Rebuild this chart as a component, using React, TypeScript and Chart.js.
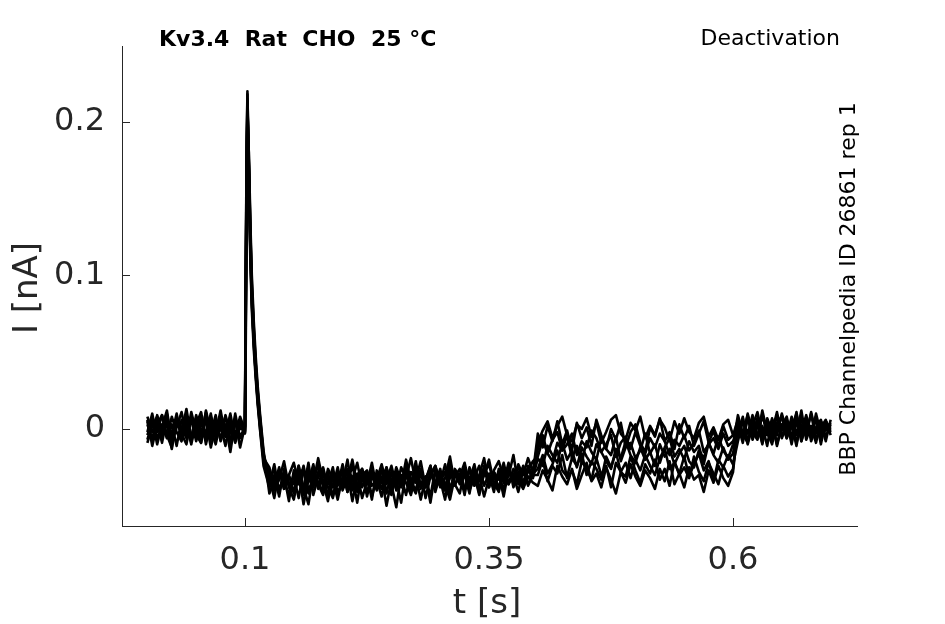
import { useEffect, useRef } from "react";
import Chart from "chart.js/auto";

// --- sample times [s] ---
const TIME_PRE = [0, 0.005, 0.01, 0.015, 0.02, 0.025, 0.03, 0.035, 0.04, 0.045, 0.05, 0.055, 0.06, 0.065, 0.07, 0.075, 0.08, 0.085, 0.09, 0.095, 0.1];
const TIME_SPIKE = [0.1005, 0.1015, 0.1025, 0.104, 0.1055, 0.107, 0.109, 0.111, 0.113, 0.1155, 0.119];
const TIME_MID = [
  0.125, 0.13, 0.135, 0.14, 0.145, 0.15, 0.155, 0.16, 0.165, 0.17, 0.175, 0.18, 0.185, 0.19, 0.195, 0.2,
  0.205, 0.21, 0.215, 0.22, 0.225, 0.23, 0.235, 0.24, 0.245, 0.25, 0.255, 0.26, 0.265, 0.27, 0.275, 0.28, 0.285, 0.29, 0.295, 0.3,
  0.305, 0.31, 0.315, 0.32, 0.325, 0.33, 0.335, 0.34, 0.345, 0.35, 0.355, 0.36, 0.365, 0.37, 0.375, 0.38, 0.385, 0.39, 0.395,
];
const TIME_STEP = [
  0.4, 0.405, 0.41, 0.415, 0.42, 0.425, 0.43, 0.435, 0.44, 0.445, 0.45, 0.455, 0.46, 0.465, 0.47, 0.475, 0.48, 0.485, 0.49, 0.495, 0.5,
  0.505, 0.51, 0.515, 0.52, 0.525, 0.53, 0.535, 0.54, 0.545, 0.55, 0.555, 0.56, 0.565, 0.57, 0.575, 0.58, 0.585, 0.59, 0.595, 0.6,
];
const TIME_POST = [0.605, 0.61, 0.615, 0.62, 0.625, 0.63, 0.635, 0.64, 0.645, 0.65, 0.655, 0.66, 0.665, 0.67, 0.675, 0.68, 0.685, 0.69, 0.695, 0.7];
const TIME = [...TIME_PRE, ...TIME_SPIKE, ...TIME_MID, ...TIME_STEP, ...TIME_POST];

// --- current traces [nA], one per sweep ---
const TRACE_1 = [
  0.003, -0.007, 0.009, -0.002, 0.005, -0.009, 0.001, 0.011, -0.004, 0.006, -0.008, 0.004, -0.003, 0.01, -0.006, 0.002, -0.011, 0.007, -0.004, 0.008, -0.001,
  0.07, 0.17, 0.22, 0.165, 0.115, 0.082, 0.056, 0.036, 0.019, 0.002, -0.02,
  -0.028, -0.036, -0.025, -0.039, -0.03, -0.022, -0.035, -0.041, -0.027, -0.033, -0.024, -0.038, -0.029, -0.044, -0.031,
  -0.026, -0.034, -0.02, -0.037, -0.03, -0.042, -0.028, -0.033, -0.023, -0.036, -0.029, -0.04, -0.025, -0.032, -0.019,
  -0.035, -0.027, -0.038, -0.03, -0.024, -0.034, -0.028, -0.041, -0.026, -0.031, -0.022, -0.036, -0.029, -0.033, -0.025,
  -0.038, -0.027, -0.021, -0.032, -0.026, -0.035, -0.023, -0.03, -0.019, -0.028,
  -0.009, -0.001, 0.005, -0.006, 0.002, 0.008, -0.004, -0.008, 0.003, 0.0, 0.007, -0.005, 0.004, -0.009, -0.002,
  0.006, 0.009, -0.003, -0.007, 0.004, -0.001, 0.008, -0.006, 0.002, -0.004, 0.006, 0.001, -0.008, 0.005, -0.003,
  0.007, -0.002, -0.006, 0.004, 0.008, -0.005, 0.001, -0.007, 0.003, 0.006, -0.004,
  0.006, -0.004, 0.009, -0.007, 0.003, -0.009, 0.007, -0.002, 0.011, -0.005, 0.004, -0.008, 0.008, -0.001, 0.006, -0.006, 0.01, -0.003, 0.005, -0.002,
];
const TRACE_2 = [
  -0.004, 0.006, -0.01, 0.003, -0.006, 0.008, -0.002, -0.008, 0.005, -0.005, 0.009, -0.003, 0.006, -0.012, 0.002, 0.007, -0.005, 0.004, -0.009, 0.003, 0.001,
  0.05, 0.15, 0.205, 0.17, 0.125, 0.09, 0.062, 0.04, 0.022, 0.004, -0.018,
  -0.034, -0.026, -0.04, -0.029, -0.037, -0.031, -0.045, -0.027, -0.035, -0.023, -0.039, -0.03, -0.036, -0.025, -0.042,
  -0.033, -0.028, -0.047, -0.031, -0.026, -0.036, -0.03, -0.04, -0.027, -0.034, -0.024, -0.037, -0.031, -0.043, -0.028,
  -0.033, -0.021, -0.038, -0.029, -0.035, -0.026, -0.04, -0.032, -0.027, -0.036, -0.03, -0.042, -0.025, -0.034, -0.029,
  -0.023, -0.036, -0.031, -0.039, -0.027, -0.033, -0.028, -0.037, -0.024, -0.031,
  -0.013, -0.004, -0.016, -0.007, -0.002, -0.014, -0.01, -0.003, -0.017, -0.008, -0.012, -0.001, -0.006, -0.015, -0.01,
  -0.004, -0.018, -0.009, -0.005, -0.013, -0.002, -0.011, -0.016, -0.006, -0.012, -0.003, -0.008, -0.017, -0.007, -0.011,
  -0.004, -0.014, -0.009, -0.001, -0.015, -0.01, -0.006, -0.013, -0.003, -0.011, -0.008,
  -0.003, 0.007, -0.008, 0.004, -0.005, 0.009, -0.002, 0.006, -0.01, 0.003, -0.006, 0.008, -0.004, 0.012, -0.007, 0.002, -0.009, 0.005, -0.001, 0.004,
];
const TRACE_3 = [
  0.008, -0.002, 0.004, -0.009, 0.007, -0.004, 0.01, -0.006, 0.002, -0.01, 0.005, 0.0, -0.007, 0.006, -0.003, 0.012, -0.005, 0.002, -0.008, 0.005, -0.003,
  0.04, 0.14, 0.21, 0.175, 0.13, 0.095, 0.066, 0.043, 0.025, 0.007, -0.016,
  -0.031, -0.039, -0.027, -0.034, -0.043, -0.029, -0.036, -0.024, -0.04, -0.032, -0.037, -0.026, -0.045, -0.03, -0.035,
  -0.028, -0.041, -0.033, -0.022, -0.038, -0.031, -0.046, -0.027, -0.035, -0.03, -0.039, -0.025, -0.034, -0.029, -0.042,
  -0.026, -0.036, -0.031, -0.048, -0.028, -0.035, -0.023, -0.039, -0.03, -0.034, -0.027, -0.04, -0.032, -0.024, -0.037,
  -0.029, -0.041, -0.026, -0.035, -0.022, -0.038, -0.03, -0.034, -0.027, -0.032,
  -0.019, -0.024, -0.011, -0.017, -0.022, -0.009, -0.02, -0.014, -0.025, -0.012, -0.018, -0.023, -0.01, -0.015, -0.021,
  -0.026, -0.013, -0.019, -0.008, -0.017, -0.022, -0.012, -0.02, -0.015, -0.024, -0.01, -0.018, -0.013, -0.023, -0.016,
  -0.011, -0.021, -0.025, -0.014, -0.019, -0.009, -0.017, -0.022, -0.012, -0.02, -0.016,
  0.004, -0.006, 0.01, -0.003, 0.007, -0.008, 0.002, -0.005, 0.009, -0.001, 0.006, -0.01, 0.005, -0.004, 0.008, -0.002, 0.007, -0.007, 0.003, 0.001,
];
const TRACE_4 = [
  -0.007, 0.004, -0.002, 0.009, -0.005, 0.003, -0.011, 0.006, -0.001, 0.008, -0.004, -0.009, 0.012, -0.002, 0.005, -0.007, 0.009, -0.003, 0.006, -0.012, 0.002,
  0.06, 0.16, 0.215, 0.16, 0.11, 0.078, 0.052, 0.033, 0.016, -0.001, -0.024,
  -0.038, -0.03, -0.044, -0.026, -0.035, -0.041, -0.028, -0.049, -0.033, -0.027, -0.036, -0.043, -0.03, -0.038, -0.025,
  -0.04, -0.032, -0.037, -0.029, -0.045, -0.034, -0.027, -0.039, -0.031, -0.05, -0.033, -0.028, -0.036, -0.024, -0.04,
  -0.03, -0.046, -0.032, -0.027, -0.038, -0.031, -0.035, -0.043, -0.029, -0.034, -0.04, -0.026, -0.037, -0.031, -0.044,
  -0.032, -0.028, -0.039, -0.025, -0.035, -0.03, -0.041, -0.027, -0.036, -0.029,
  -0.026, -0.017, -0.029, -0.023, -0.014, -0.027, -0.031, -0.019, -0.024, -0.016, -0.03, -0.021, -0.026, -0.033, -0.018,
  -0.025, -0.015, -0.028, -0.022, -0.032, -0.02, -0.027, -0.017, -0.024, -0.03, -0.019, -0.013, -0.026, -0.022, -0.029,
  -0.018, -0.031, -0.023, -0.016, -0.027, -0.021, -0.034, -0.02, -0.025, -0.017, -0.023,
  -0.008, 0.005, -0.003, 0.009, -0.006, 0.002, -0.011, 0.007, -0.004, 0.01, -0.002, 0.006, -0.009, 0.003, -0.005, 0.011, -0.003, 0.004, -0.008, 0.006,
];
const TRACE_5 = [
  0.005, -0.008, 0.002, -0.004, 0.01, -0.007, 0.004, -0.002, 0.013, -0.006, 0.001, -0.009, 0.007, -0.003, 0.009, -0.008, 0.003, -0.015, 0.006, -0.005, 0.0,
  0.03, 0.12, 0.195, 0.18, 0.135, 0.1, 0.07, 0.047, 0.028, 0.009, -0.014,
  -0.042, -0.033, -0.027, -0.039, -0.031, -0.036, -0.024, -0.043, -0.03, -0.038, -0.028, -0.035, -0.047, -0.029, -0.034,
  -0.038, -0.026, -0.032, -0.041, -0.03, -0.027, -0.037, -0.033, -0.044, -0.029, -0.035, -0.031, -0.038, -0.026, -0.036,
  -0.042, -0.029, -0.034, -0.024, -0.039, -0.033, -0.046, -0.028, -0.036, -0.031, -0.025, -0.038, -0.03, -0.043, -0.027,
  -0.034, -0.03, -0.04, -0.028, -0.036, -0.026, -0.033, -0.039, -0.031, -0.035,
  -0.037, -0.027, -0.033, -0.04, -0.024, -0.031, -0.036, -0.026, -0.039, -0.03, -0.022, -0.034, -0.029, -0.038, -0.025,
  -0.033, -0.042, -0.028, -0.035, -0.023, -0.031, -0.037, -0.027, -0.032, -0.039, -0.026, -0.034, -0.021, -0.036, -0.029,
  -0.038, -0.025, -0.033, -0.03, -0.041, -0.027, -0.035, -0.024, -0.032, -0.037, -0.028,
  0.002, -0.007, 0.008, -0.004, 0.005, -0.01, 0.006, -0.001, 0.009, -0.006, 0.003, -0.005, 0.011, -0.008, 0.004, -0.003, 0.008, -0.006, 0.002, -0.001,
];
const TRACE_6 = [
  -0.002, 0.01, -0.006, 0.001, 0.012, -0.008, 0.005, -0.003, -0.01, 0.007, 0.002, -0.005, 0.011, -0.007, 0.004, -0.001, 0.008, -0.009, 0.003, 0.006, -0.002,
  0.065, 0.165, 0.218, 0.168, 0.12, 0.085, 0.058, 0.038, 0.02, 0.003, -0.019,
  -0.025, -0.04, -0.033, -0.021, -0.038, -0.046, -0.03, -0.026, -0.042, -0.035, -0.019, -0.034, -0.044, -0.028, -0.037,
  -0.023, -0.041, -0.031, -0.048, -0.027, -0.036, -0.022, -0.039, -0.033, -0.025, -0.043, -0.029, -0.037, -0.02, -0.034,
  -0.04, -0.026, -0.045, -0.031, -0.024, -0.038, -0.032, -0.018, -0.036, -0.042, -0.027, -0.033, -0.023, -0.039, -0.03,
  -0.02, -0.035, -0.041, -0.026, -0.031, -0.017, -0.036, -0.024, -0.032, -0.029,
  -0.003, -0.012, 0.002, -0.008, 0.005, -0.01, -0.001, -0.014, 0.004, -0.006, 0.001, -0.011, 0.006, -0.004, -0.013,
  0.0, -0.007, 0.004, -0.012, -0.002, 0.003, -0.009, -0.015, 0.001, -0.005, 0.007, -0.008, -0.002, -0.013, 0.003,
  -0.006, 0.002, -0.011, -0.003, 0.005, -0.009, -0.001, -0.012, 0.002, -0.007, -0.004,
  -0.005, 0.008, -0.01, 0.002, 0.011, -0.004, 0.006, -0.008, 0.0, 0.009, -0.006, 0.003, -0.011, 0.007, -0.002, 0.01, -0.007, 0.001, 0.006, -0.004,
];
const TRACE_7 = [
  0.006, -0.011, 0.003, 0.009, -0.004, -0.012, 0.007, 0.001, -0.006, 0.011, -0.002, 0.008, -0.01, 0.004, -0.005, 0.009, -0.001, -0.008, 0.01, -0.006, 0.002,
  0.045, 0.145, 0.208, 0.172, 0.128, 0.092, 0.064, 0.042, 0.024, 0.006, -0.017,
  -0.036, -0.023, -0.041, -0.03, -0.047, -0.027, -0.034, -0.039, -0.022, -0.043, -0.031, -0.025, -0.038, -0.045, -0.029,
  -0.035, -0.02, -0.04, -0.032, -0.026, -0.044, -0.03, -0.037, -0.024, -0.042, -0.028, -0.033, -0.048, -0.027, -0.036,
  -0.021, -0.039, -0.031, -0.044, -0.026, -0.034, -0.04, -0.023, -0.037, -0.029, -0.043, -0.025, -0.035, -0.03, -0.019,
  -0.038, -0.028, -0.033, -0.022, -0.036, -0.03, -0.024, -0.038, -0.027, -0.021,
  -0.018, -0.007, -0.016, -0.021, -0.009, -0.014, -0.004, -0.019, -0.011, -0.022, -0.008, -0.015, -0.02, -0.006, -0.013,
  -0.017, -0.005, -0.021, -0.012, -0.009, -0.019, -0.014, -0.003, -0.016, -0.01, -0.022, -0.012, -0.006, -0.018, -0.013,
  -0.02, -0.008, -0.015, -0.011, -0.023, -0.009, -0.016, -0.005, -0.014, -0.019, -0.01,
  0.009, -0.003, -0.009, 0.005, -0.006, 0.012, -0.002, -0.01, 0.004, 0.008, -0.005, 0.001, 0.01, -0.008, 0.003, -0.004, 0.007, -0.01, 0.005, 0.0,
];
const TRACE_8 = [
  -0.009, 0.002, 0.008, -0.005, 0.004, -0.013, 0.006, -0.003, 0.009, -0.008, 0.003, 0.011, -0.006, 0.0, -0.01, 0.005, -0.004, 0.01, -0.007, 0.001, -0.002,
  0.055, 0.155, 0.212, 0.163, 0.117, 0.084, 0.057, 0.036, 0.018, 0.0, -0.021,
  -0.032, -0.045, -0.027, -0.036, -0.03, -0.042, -0.024, -0.038, -0.049, -0.029, -0.035, -0.041, -0.026, -0.033, -0.046,
  -0.031, -0.037, -0.023, -0.04, -0.034, -0.028, -0.044, -0.032, -0.039, -0.025, -0.036, -0.051, -0.03, -0.035, -0.043,
  -0.027, -0.038, -0.033, -0.024, -0.041, -0.029, -0.036, -0.046, -0.031, -0.026, -0.039, -0.034, -0.028, -0.042, -0.024,
  -0.033, -0.038, -0.029, -0.044, -0.027, -0.034, -0.031, -0.025, -0.037, -0.03,
  -0.03, -0.02, -0.034, -0.024, -0.029, -0.017, -0.032, -0.027, -0.036, -0.021, -0.026, -0.033, -0.019, -0.03, -0.024,
  -0.038, -0.022, -0.028, -0.031, -0.018, -0.027, -0.035, -0.023, -0.029, -0.02, -0.033, -0.026, -0.037, -0.021, -0.03,
  -0.025, -0.032, -0.018, -0.028, -0.034, -0.022, -0.029, -0.036, -0.024, -0.031, -0.026,
  0.003, -0.009, 0.007, -0.002, -0.007, 0.01, -0.004, 0.005, -0.011, 0.002, 0.008, -0.006, 0.004, -0.003, 0.009, -0.008, 0.001, 0.006, -0.005, 0.003,
];
const TRACES = [TRACE_1, TRACE_2, TRACE_3, TRACE_4, TRACE_5, TRACE_6, TRACE_7, TRACE_8];

const X_TICKS = [0.1, 0.35, 0.6];
const Y_TICKS = [0, 0.1, 0.2];

const TITLE = "Kv3.4  Rat  CHO  25 °C";
const PROTOCOL = "Deactivation";
const SOURCE = "BBP Channelpedia ID 26861 rep 1";
const X_LABEL = "t [s]";
const Y_LABEL = "I [nA]";

const FONT = "'DejaVu Sans', sans-serif";
const AXIS_COLOR = "#262626";

// inward tick marks + the loose texts around the axes
const annotations = {
  id: "annotations",
  afterDraw(chart: any) {
    const { ctx, chartArea, scales } = chart;
    ctx.save();
    ctx.strokeStyle = AXIS_COLOR;
    ctx.lineWidth = 1;
    ctx.beginPath();
    X_TICKS.forEach((v) => {
      const px = Math.round(scales.x.getPixelForValue(v)) + 0.5;
      ctx.moveTo(px, chartArea.bottom);
      ctx.lineTo(px, chartArea.bottom - 8);
    });
    Y_TICKS.forEach((v) => {
      const py = Math.round(scales.y.getPixelForValue(v)) + 0.5;
      ctx.moveTo(chartArea.left, py);
      ctx.lineTo(chartArea.left + 8, py);
    });
    ctx.stroke();

    ctx.fillStyle = "#000";
    ctx.textBaseline = "middle";
    ctx.font = `bold 22px ${FONT}`;
    ctx.textAlign = "left";
    ctx.fillText(TITLE, 159, 40);
    ctx.font = `22px ${FONT}`;
    ctx.textAlign = "right";
    ctx.fillText(PROTOCOL, 840, 39);

    ctx.save();
    ctx.translate(849, 289);
    ctx.rotate(-Math.PI / 2);
    ctx.textAlign = "center";
    ctx.fillText(SOURCE, 0, 0);
    ctx.restore();

    ctx.fillStyle = AXIS_COLOR;
    ctx.font = `34px ${FONT}`;
    ctx.textAlign = "center";
    ctx.fillText(X_LABEL, 487, 604);
    ctx.save();
    ctx.translate(28, 288);
    ctx.rotate(-Math.PI / 2);
    ctx.fillText(Y_LABEL, 0, 0);
    ctx.restore();
    ctx.restore();
  },
};

export default function App() {
  const canvasRef = useRef<HTMLCanvasElement | null>(null);

  useEffect(() => {
    if (!canvasRef.current) return;
    const datasets = TRACES.map((trace, k) => ({
      label: `sweep ${k + 1}`,
      data: TIME.map((t, i) => ({ x: t, y: trace[i] })),
      borderColor: "#000",
      borderWidth: 2.6,
      borderJoinStyle: "round" as const,
      pointRadius: 0,
      tension: 0,
      fill: false,
    }));
    const chart = new Chart(canvasRef.current, {
      type: "line",
      data: { datasets },
      options: {
        responsive: false,
        animation: false,
        layout: { padding: { left: 0, top: 46, right: 88, bottom: 0 } },
        plugins: { legend: { display: false }, tooltip: { enabled: false } },
        scales: {
          x: {
            type: "linear",
            min: -0.026,
            max: 0.727,
            afterFit: (s: any) => {
              s.height = 98;
            },
            afterBuildTicks: (s: any) => {
              s.ticks = X_TICKS.map((value) => ({ value }));
            },
            ticks: {
              padding: 15,
              maxRotation: 0,
              color: AXIS_COLOR,
              font: { family: FONT, size: 32 },
              callback: (v: any) => String(v),
            },
            grid: { display: false, drawTicks: false },
            border: { display: true, color: AXIS_COLOR, width: 1 },
          },
          y: {
            min: -0.0632,
            max: 0.2495,
            afterFit: (s: any) => {
              s.width = 122;
            },
            afterBuildTicks: (s: any) => {
              s.ticks = Y_TICKS.map((value) => ({ value }));
            },
            ticks: {
              padding: 17,
              color: AXIS_COLOR,
              font: { family: FONT, size: 32 },
              callback: (v: any) => String(v),
            },
            grid: { display: false, drawTicks: false },
            border: { display: true, color: AXIS_COLOR, width: 1 },
          },
        },
      },
      plugins: [annotations],
    });
    return () => chart.destroy();
  }, []);

  return (
    <div style={{ position: "absolute", left: 0, top: 0, width: 945, height: 624, background: "#fff" }}>
      <canvas ref={canvasRef} width={945} height={624} />
    </div>
  );
}
